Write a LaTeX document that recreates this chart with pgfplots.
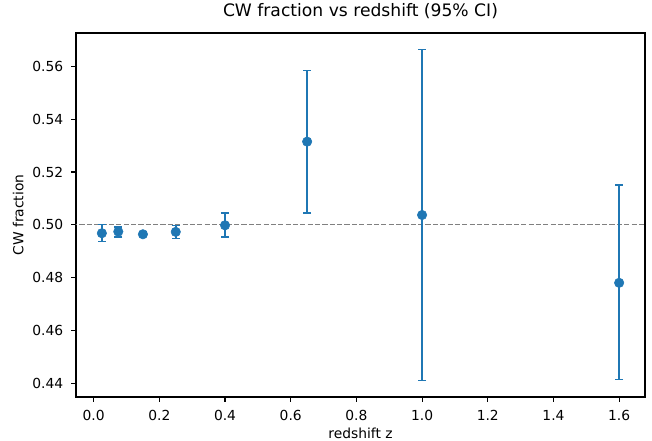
\documentclass[border=0pt]{standalone}
\usepackage{fontspec}
\setmainfont{DejaVu Sans}
\usepackage{pgfplots}
\pgfplotsset{compat=1.18}
\definecolor{mplblue}{HTML}{1F77B4}

\begin{document}
\begin{tikzpicture}[x=1bp,y=1bp]
% picture frame: 652x441 px, 1 px = 0.72 bp, axis box at (76..645, 33..397) px
\path[use as bounding box] (-54.72bp,-31.68bp) rectangle (414.72bp,285.84bp);
\begin{axis}[
  at={(0,0)}, anchor=south west,
  scale only axis,
  width=409.68bp, height=262.08bp,
  xmin=-0.05375, xmax=1.67875,
  ymin=0.43473, ymax=0.57267,
  xtick={0,0.2,...,1.6},
  ytick={0.44,0.46,...,0.56},
  xticklabel style={/pgf/number format/.cd,fixed,fixed zerofill,precision=1,/tikz/.cd,yshift=-2.5bp},
  yticklabel style={/pgf/number format/.cd,fixed,fixed zerofill,precision=2,/tikz/.cd,xshift=-2.2bp},
  /pgf/number format/assume math mode=true,
  tick label style={font=\fontsize{10}{12}\selectfont},
  label style={font=\fontsize{10}{12}\selectfont},
  xtick pos=bottom, ytick pos=left,
  tick align=outside,
  major tick length=3.5bp,
  every tick/.style={black, line width=0.8bp},
  axis line style={line width=0.8bp},
  xlabel={redshift z},
  ylabel={CW fraction},
  xlabel style={at={(axis description cs:0.5,-0.1141)}, anchor=base},
  ylabel style={at={(axis description cs:-0.0923,0.5)}, anchor=base, rotate=0},
  title={CW fraction vs redshift (95\% CI)},
  title style={font=\fontsize{12.4}{14}\selectfont, at={(axis description cs:0.5,1.0221)}, anchor=base},
  clip=true,
]
% reference line at 0.5
\addplot[gray, line width=1bp, dash pattern=on 3.7bp off 1.6bp, forget plot]
  coordinates {(-0.2,0.5) (1.9,0.5)};
% CW fraction with 95% CI (asymmetric errors: value, +, -)
\addplot[
  only marks, mark=*, mark size=3.4bp, color=mplblue,
  mark options={fill=mplblue, draw=mplblue},
  error bars/.cd,
    y dir=both, y explicit,
    error bar style={line width=1.45bp, mplblue},
    error mark options={line width=1bp, mplblue, mark size=2.9bp, rotate=90},
] table[x=z, y=f, y error plus=ep, y error minus=em] {
z     f       ep      em
0.025 0.4968  0.0034  0.0032
0.075 0.4974  0.0018  0.0020
0.15  0.4964  0.0008  0.0007
0.25  0.4973  0.0025  0.0025
0.40  0.4998  0.0046  0.0045
0.65  0.5315  0.0269  0.0271
1.00  0.5037  0.0627  0.0627
1.60  0.4780  0.0370  0.0367
};
\end{axis}
\end{tikzpicture}
\end{document}
